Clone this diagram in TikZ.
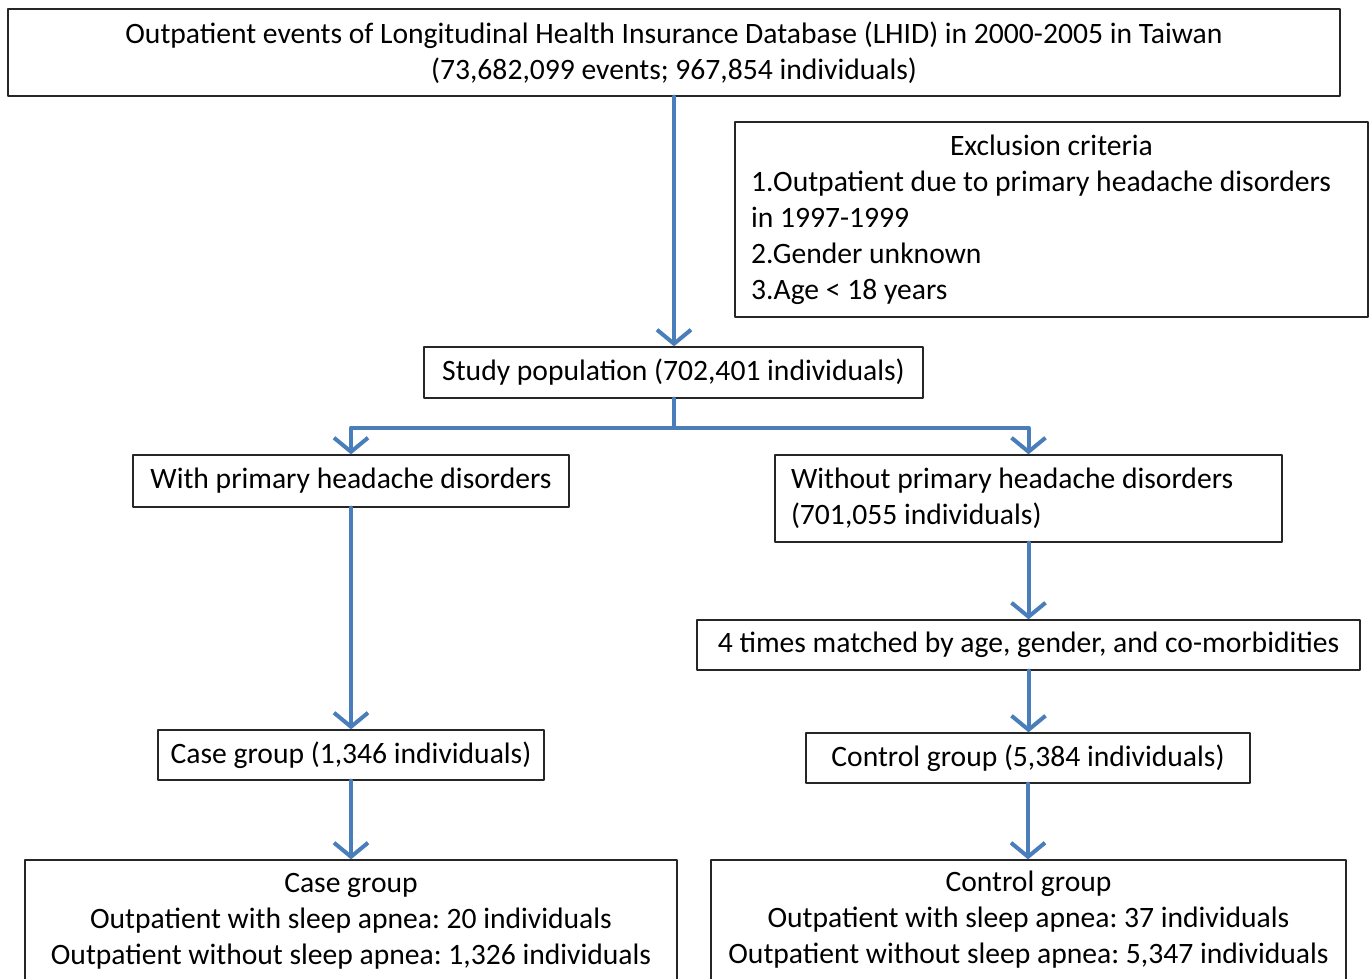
\documentclass[tikz,border=0pt]{standalone}
\usepackage{fontspec}
\setmainfont{Carlito}
\usetikzlibrary{arrows.meta, calc}
\frenchspacing
\definecolor{arrowblue}{RGB}{74,126,187}
\tikzset{flowbox/.style={draw=black!85, line width=1.3pt, inner sep=0pt, align=center, font=\fontsize{29.6}{36}\selectfont}}
\tikzset{flowarrow/.style={draw=arrowblue, line width=4pt, -{Straight Barb[length=14pt, width=34pt, line width=4pt]}}}

\begin{document}
\begin{tikzpicture}[x=1pt, y=-1pt, line cap=round, line join=round]
	\useasboundingbox (0,0) rectangle (1370,979);
	
	% Source database
	\node[flowbox, minimum width=1332pt, minimum height=87pt] (lhid) at (674,52.5)
		{Outpatient events of Longitudinal Health Insurance Database (LHID) in 2000-2005 in Taiwan\\(73,682,099 events; 967,854 individuals)};
	
	% Exclusion criteria
	\node[flowbox, minimum width=633pt, minimum height=195pt, text width=601pt, align=flush left] (excl) at (1051.5,219.5)
		{\makebox[\linewidth]{Exclusion criteria}\\1.Outpatient due to primary headache disorders\\in 1997-1999\\2.Gender unknown\\3.Age < 18 years};
	
	% Study population
	\node[flowbox, minimum width=499pt, minimum height=51pt] (study) at (673.5,372.5) {Study population (702,401 individuals)};
	
	% Groups
	\node[flowbox, minimum width=436pt, minimum height=52pt] (with) at (351,481) {With primary headache disorders};
	\node[flowbox, minimum width=507pt, minimum height=87pt, text width=475pt, align=flush left] (without) at (1028.5,498.5)
		{Without primary headache disorders\\(701,055 individuals)};
	\node[flowbox, minimum width=663pt, minimum height=50pt] (match) at (1028.5,645) {4 times matched by age, gender, and co-morbidities};
	\node[flowbox, minimum width=386pt, minimum height=50pt] (case) at (351,755) {Case group (1,346 individuals)};
	\node[flowbox, minimum width=444pt, minimum height=50pt] (control) at (1028,758) {Control group (5,384 individuals)};
	
	% Outcomes
	\node[flowbox, minimum width=652pt, minimum height=122pt] (caseout) at (351,921)
		{Case group\\Outpatient with sleep apnea: 20 individuals\\Outpatient without sleep apnea: 1,326 individuals};
	\node[flowbox, minimum width=635pt, minimum height=120pt] (controlout) at (1028.5,920)
		{Control group\\Outpatient with sleep apnea: 37 individuals\\Outpatient without sleep apnea: 5,347 individuals};
	
	% Arrows
	\draw[flowarrow] (lhid.south) -- (lhid.south |- study.north);
	\coordinate (split) at ($(study.south)+(0,29)$);
	\draw[draw=arrowblue, line width=4pt] (study.south) -- (split);
	\draw[flowarrow] (split) -| (with.north);
	\draw[flowarrow] (split) -| (without.north);
	\draw[flowarrow] (with.south) -- (case.north);
	\draw[flowarrow] (without.south) -- (without.south |- match.north);
	\draw[flowarrow] (match.south) -- (match.south |- control.north);
	\draw[flowarrow] (case.south) -- (caseout.north);
	\draw[flowarrow] (control.south) -- (control.south |- controlout.north);
\end{tikzpicture}
\end{document}
